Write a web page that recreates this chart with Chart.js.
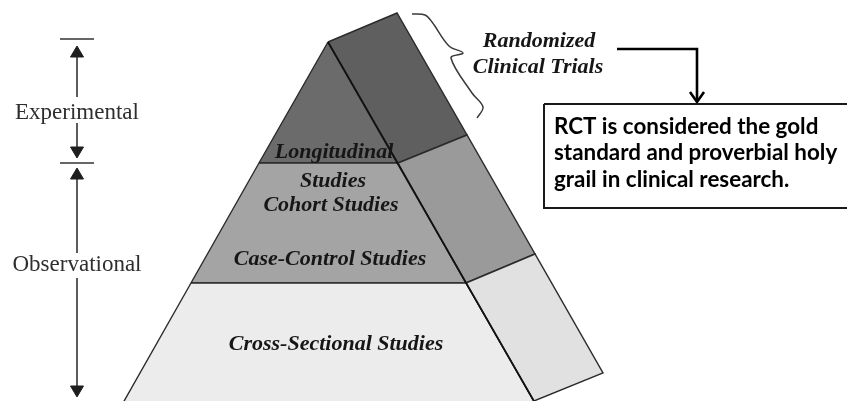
<!DOCTYPE html>
<html>
<head>
<meta charset="utf-8">
<script src="https://cdn.jsdelivr.net/npm/chart.js@4/dist/chart.umd.min.js"></script>
<style>
  html, body { margin: 0; padding: 0; background: #fff; }
  canvas { display: block; }
</style>
</head>
<body>
<canvas id="pyramid" width="847" height="401"></canvas>
<script>
// pyramid faces, in chart units (x 0..847, y 0..401 top-down)
const frontTop  = [[328, 42], [398, 163], [259, 163]];
const frontMid  = [[259, 163], [398, 163], [466, 283], [191, 283]];
const frontBase = [[191, 283], [466, 283], [539, 410], [119, 410]];
const sideTop   = [[328, 42], [397, 13], [467, 135], [398, 163]];
const sideMid   = [[398, 163], [467, 135], [535, 254], [466, 283]];
const sideBase  = [[466, 283], [535, 254], [603, 373], [534, 401]];

// brace beside the top block
const brace = [[412, 14], [425, 15], [432, 22], [449, 46], [463, 53], [451, 58], [472, 93], [483, 107], [477, 118]];

// callout arrow + note box
const calloutLine = [[617, 49], [697, 49], [697, 101]];
const calloutHead = [[690, 92], [697, 102], [704, 92]];
const noteBox = [[544, 104], [852, 104], [852, 208], [544, 208], [544, 104]];

// left scale: tick bars and arrows [x, yTail, yTip]
const scaleTicks = [[60, 94, 39], [60, 94, 163]];
const scaleArrows = [[77, 97, 46], [77, 123, 158], [77, 253, 168], [77, 278, 397]];

// texts
const levelLabels = ['Longitudinal', 'Studies', 'Cohort Studies', 'Case-Control Studies', 'Cross-Sectional Studies'];
const trialLabels = ['Randomized', 'Clinical Trials'];
const scaleLabels = ['Experimental', 'Observational'];
const noteLines = ['RCT is considered the gold', 'standard and proverbial holy', 'grail in clinical research.'];

const datasets = [];

function shape(pts, fill, stroke, width) {
  const closed = pts.concat([pts[0]]);
  datasets.push({
    data: closed.map(p => ({ x: p[0], y: p[1] })),
    showLine: true,
    fill: fill ? 'shape' : false,
    backgroundColor: fill || 'transparent',
    borderColor: stroke || 'transparent',
    borderWidth: width || 0,
    pointRadius: 0,
    tension: 0,
    clip: false
  });
}

function path(pts, stroke, width, tension) {
  datasets.push({
    data: pts.map(p => ({ x: p[0], y: p[1] })),
    showLine: true,
    fill: false,
    borderColor: stroke,
    borderWidth: width,
    pointRadius: 0,
    tension: tension || 0
  });
}

shape(frontTop, '#6b6b6b', '#2b2b2b', 1.4);
shape(frontMid, '#a4a4a4', '#2b2b2b', 1.4);
shape(frontBase, '#ececec', '#2b2b2b', 1.4);
shape(sideTop, '#5f5f5f', '#2b2b2b', 1.4);
shape(sideMid, '#9a9a9a', '#2b2b2b', 1.4);
shape(sideBase, '#e1e1e1', '#2b2b2b', 1.4);
// ridge a bit darker
path([frontTop[0], frontBase[2]], '#111', 1.8);

path(brace, '#3a3a3a', 1.5, 0.35);

path(calloutLine, '#000', 2.6);
path(calloutHead, '#000', 2.6);
shape(noteBox, '#ffffff', '#1a1a1a', 2);

scaleTicks.forEach(t => path([[t[0], t[2]], [t[1], t[2]]], '#333', 1.6));
scaleArrows.forEach(a => {
  const dir = a[2] < a[1] ? -1 : 1;
  const base = a[2] - dir * 11;
  path([[a[0], a[1]], [a[0], base]], '#333', 1.6);
  shape([[a[0], a[2]], [a[0] + 6.5, base], [a[0] - 6.5, base]], '#1e1e1e', '#1e1e1e', 1);
});

// painter's order: later entries on top
datasets.forEach((d, i) => { d.order = datasets.length - i; });

const labelSets = [
  { lines: levelLabels, at: [[334, 158], [333, 187], [331, 211], [330, 265], [336, 350]],
    font: 'bold italic 22px "Liberation Serif"', color: '#161616', align: 'center' },
  { lines: trialLabels, at: [[539, 47], [538, 73]],
    font: 'bold italic 22px "Liberation Serif"', color: '#161616', align: 'center' },
  { lines: scaleLabels, at: [[77, 119], [77, 271]],
    font: '23px "Liberation Serif"', color: '#2e2e2e', align: 'center' },
  { lines: noteLines, at: [[554, 134], [554, 160], [554, 187]],
    font: 'bold 22.4px Lato', color: '#000', align: 'left' }
];

const labelPlugin = {
  id: 'labels',
  afterDatasetsDraw(chart) {
    const { ctx, scales: { x, y } } = chart;
    ctx.save();
    ctx.textBaseline = 'alphabetic';
    labelSets.forEach(set => {
      ctx.font = set.font;
      ctx.fillStyle = set.color;
      ctx.textAlign = set.align;
      set.lines.forEach((t, i) => {
        ctx.fillText(t, x.getPixelForValue(set.at[i][0]), y.getPixelForValue(set.at[i][1]));
      });
    });
    ctx.restore();
  }
};

new Chart(document.getElementById('pyramid'), {
  type: 'scatter',
  data: { datasets },
  options: {
    responsive: false,
    animation: false,
    layout: { padding: 0 },
    plugins: { legend: { display: false }, tooltip: { enabled: false } },
    scales: {
      x: { type: 'linear', min: 0, max: 847, display: false },
      y: { type: 'linear', min: 0, max: 401, reverse: true, display: false }
    }
  },
  plugins: [labelPlugin]
});
</script>
</body>
</html>
